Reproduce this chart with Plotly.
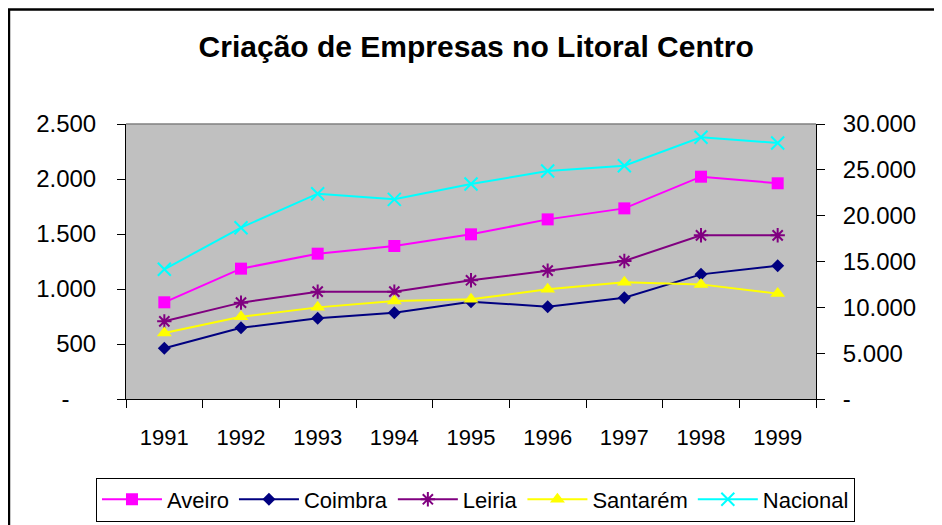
import plotly.graph_objects as go

years = ["1991", "1992", "1993", "1994", "1995", "1996", "1997", "1998", "1999"]
aveiro = [879, 1185, 1321, 1391, 1497, 1633, 1733, 2021, 1961]
coimbra = [461, 648, 733, 785, 885, 839, 921, 1133, 1212]
leiria = [706, 876, 976, 976, 1079, 1167, 1255, 1488, 1488]
santarem = [600, 748, 833, 891, 906, 997, 1061, 1042, 958]
nacional = [14150, 18690, 22400, 21780, 23450, 24870, 25450, 28550, 27930]

left_ticks = [0, 500, 1000, 1500, 2000, 2500]
left_text = ["-\u00a0\u00a0\u00a0\u00a0", "500", "1.000", "1.500", "2.000", "2.500"]
right_ticks = [0, 5000, 10000, 15000, 20000, 25000, 30000]
right_text = ["-", "5.000", "10.000", "15.000", "20.000", "25.000", "30.000"]

FONT = "Liberation Sans, Arial, sans-serif"

fig = go.Figure()

def add(name, vals, color, symbol, size, yaxis="y", lw=2, mline=0):
    fig.add_trace(go.Scatter(
        x=years, y=vals, name=name, mode="lines+markers", yaxis=yaxis,
        line=dict(color=color, width=lw),
        marker=dict(symbol=symbol, size=size, color=color,
                    line=dict(color=color, width=mline)),
    ))

add("Aveiro", aveiro, "#FF00FF", "square", 12)
add("Coimbra", coimbra, "#000080", "diamond", 10)
add("Leiria", leiria, "#800080", "asterisk-open", 12, mline=2)
add("Santarém", santarem, "#FFFF00", "triangle-up", 13)
add("Nacional", nacional, "#00FFFF", "x-thin-open", 13, yaxis="y2", mline=2)

n = len(years)
bounds = [i - 0.5 for i in range(n + 1)]

axis_common = dict(showgrid=False, zeroline=False, tickcolor="black",
                   tickwidth=1, ticklen=8)

fig.update_layout(
    width=942, height=525,
    margin=dict(l=118, r=134, t=116, b=134, autoexpand=False),
    paper_bgcolor="white",
    plot_bgcolor="#C0C0C0",
    font=dict(family=FONT, color="black"),
    title=dict(text="<b>Criação de Empresas no Litoral Centro</b>",
               x=0.497, xanchor="center", y=0.926, yanchor="middle",
               font=dict(size=30, family=FONT, color="black")),
    xaxis=dict(type="category", categoryorder="array", categoryarray=years,
               range=[-0.5, n - 0.5], tickson="boundaries", ticks="outside",
               showline=True, linecolor="black", linewidth=1,
               tickfont=dict(size=22), ticklabelstandoff=19, **axis_common),
    xaxis2=dict(overlaying="x", anchor="y", side="bottom", type="linear",
                range=[-0.5, n - 0.5], tickmode="array", tickvals=bounds,
                ticks="inside", showticklabels=False, showline=False,
                **{**axis_common, "ticklen": 7}),
    yaxis=dict(range=[0, 2500], tickmode="array", tickvals=left_ticks,
               ticktext=left_text, ticks="outside", showline=True,
               linecolor="black", linewidth=1, tickfont=dict(size=24),
               ticklabelstandoff=16, **axis_common),
    yaxis3=dict(overlaying="y", anchor="x", side="left", range=[0, 2500],
                tickmode="array", tickvals=left_ticks, ticks="inside",
                showticklabels=False, showline=False,
                **{**axis_common, "ticklen": 7}),
    yaxis2=dict(overlaying="y", side="right", anchor="x", range=[0, 30000],
                tickmode="array", tickvals=right_ticks, ticktext=right_text,
                ticks="outside", showline=True, linecolor="black",
                linewidth=1, tickfont=dict(size=24), ticklabelstandoff=13,
                **axis_common),
    yaxis4=dict(overlaying="y", side="right", anchor="x", range=[0, 30000],
                tickmode="array", tickvals=right_ticks, ticks="inside",
                showticklabels=False, showline=False,
                **{**axis_common, "ticklen": 7}),
    legend=dict(orientation="h", xref="paper", yref="paper",
                x=1.0565, xanchor="right", y=-0.3655, yanchor="middle",
                bgcolor="white", bordercolor="black", borderwidth=1,
                font=dict(size=22, family=FONT, color="black"),
                itemwidth=60, traceorder="normal"),
    showlegend=True,
    shapes=[
        dict(type="line", xref="paper", yref="paper", x0=0, x1=1, y0=1, y1=1,
             line=dict(color="#808080", width=1.5)),
        dict(type="rect", xref="paper", yref="paper", x0=-0.1696, x1=1.3,
             y0=-0.6, y1=1.4164, line=dict(color="black", width=2.5),
             layer="below"),
    ],
)

fig.write_html("out.html")
